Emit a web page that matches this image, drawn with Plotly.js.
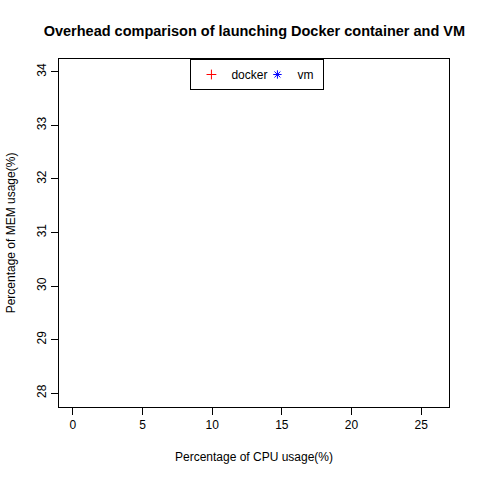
<!DOCTYPE html>
<html>
<head>
<meta charset="utf-8">
<script src="https://cdn.plot.ly/plotly-3.0.1.min.js"></script>
<style>html,body{margin:0;padding:0;background:#fff;}#chart{width:480px;height:480px;}</style>
</head>
<body>
<div id="chart"></div>
<script>
// The reference plot area contains no visible points: both series are empty.
var dockerCpu = [];
var dockerMem = [];
var vmCpu = [];
var vmMem = [];
var seriesNames = ["docker", "vm"];
var xTicks = [0, 5, 10, 15, 20, 25];
var yTicks = [28, 29, 30, 31, 32, 33, 34];

function orNull(a) { return a.length ? a : [null]; }

var traces = [
  {x: orNull(dockerCpu), y: orNull(dockerMem), name: seriesNames[0], mode: "markers", type: "scatter",
   marker: {symbol: "cross-thin-open", size: 7, color: "#ff0000", line: {color: "#ff0000", width: 1}}},
  {x: orNull(vmCpu), y: orNull(vmMem), name: seriesNames[1], mode: "markers", type: "scatter",
   marker: {symbol: "asterisk-open", size: 7, color: "#0000ff", line: {color: "#0000ff", width: 1}}}
];

var font = {family: "Liberation Sans, Arial, sans-serif", size: 12, color: "#000"};
var layout = {
  width: 480, height: 480,
  margin: {l: 59, r: 31, t: 59, b: 73},
  paper_bgcolor: "#fff", plot_bgcolor: "#fff",
  font: font,
  title: {text: "<b>Overhead comparison of launching Docker container and VM</b>",
          font: {family: "Liberation Sans, Arial, sans-serif", size: 14.5, color: "#000"},
          x: 0.53, xanchor: "center", y: 0.935, yanchor: "middle"},
  showlegend: true,
  legend: {orientation: "h", x: 0.337, xanchor: "left", y: 1, yanchor: "top",
           bordercolor: "#000", borderwidth: 1, bgcolor: "#fff", font: font,
           itemwidth: 30, tracegroupgap: 0, entrywidth: 21, entrywidthmode: "pixels"},
  xaxis: {range: [-1, 27], tickvals: xTicks, ticktext: xTicks.map(String),
          showgrid: false, zeroline: false, showline: true, mirror: true, linecolor: "#000", linewidth: 1,
          ticks: "outside", ticklen: 7, tickcolor: "#000", tickfont: font,
          title: {text: "Percentage of CPU usage(%)", font: font, standoff: 21}},
  yaxis: {range: [27.74, 34.24], tickvals: yTicks, ticktext: yTicks.map(String),
          showgrid: false, zeroline: false, showline: true, mirror: true, linecolor: "#000", linewidth: 1,
          ticks: "outside", ticklen: 7, tickcolor: "#000", tickfont: font, tickangle: -90,
          title: {text: "Percentage of MEM usage(%)", font: font, standoff: 17}}
};
Plotly.newPlot("chart", traces, layout, {displayModeBar: false, staticPlot: true});
</script>
</body>
</html>
